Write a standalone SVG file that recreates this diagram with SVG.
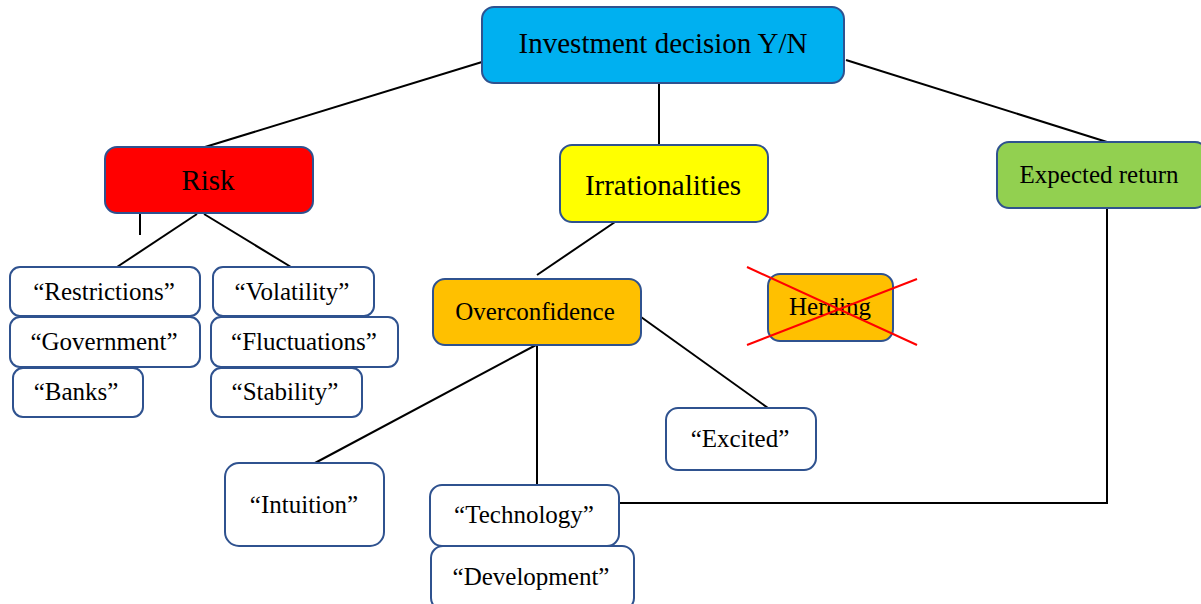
<svg xmlns="http://www.w3.org/2000/svg" width="1201" height="604" viewBox="0 0 1201 604">
<style>
.box{stroke:#2F528F;stroke-width:2}
.w{fill:#FFFFFF}
.t{font-family:'Liberation Serif','Times New Roman',Times,'DejaVu Serif',serif;fill:#000;text-anchor:middle}
.b{font-size:29px}
.s{font-size:25px}
.c{stroke:#000;stroke-width:2;fill:none}
.x{stroke:#FF0000;stroke-width:2}
</style>
<rect width="1201" height="604" fill="#FFFFFF"/>
<g id="connectors">
<line class="c" x1="482" y1="62" x2="205" y2="147"/>
<line class="c" x1="659" y1="83" x2="659" y2="145"/>
<line class="c" x1="846" y1="60" x2="1107" y2="142"/>
<line class="c" x1="140" y1="206" x2="140" y2="235"/>
<line class="c" x1="197" y1="214" x2="117" y2="267"/>
<line class="c" x1="204" y1="214" x2="291" y2="267"/>
<line class="c" x1="615" y1="222" x2="537" y2="275"/>
<line class="c" x1="641" y1="317" x2="768" y2="408"/>
<line class="c" x1="536" y1="345" x2="315" y2="463"/>
<line class="c" x1="537" y1="343" x2="537" y2="485"/>
<polyline class="c" points="619,503 1107,503 1107,208"/>
</g>
<g id="investment">
<rect class="box" x="482" y="7" width="362" height="76" rx="12" fill="#00B0F0"/>
<text class="t b" x="663" y="53" font-family="Liberation Serif, serif">Investment decision Y/N</text>
</g>
<g id="risk">
<rect class="box" x="105" y="147" width="208" height="66" rx="12" fill="#FF0000"/>
<text class="t b" x="208" y="190">Risk</text>
</g>
<g id="irrationalities">
<rect class="box" x="560" y="145" width="208" height="77" rx="12" fill="#FFFF00"/>
<text class="t b" x="663" y="195">Irrationalities</text>
</g>
<g id="expected">
<rect class="box" x="997" y="142" width="210" height="66" rx="12" fill="#92D050"/>
<text class="t s" x="1099" y="183">Expected return</text>
</g>
<g id="restrictions">
<rect class="box w" x="10" y="267" width="190" height="49" rx="10"/>
<text class="t s" x="104" y="300">“Restrictions”</text>
</g>
<g id="government">
<rect class="box w" x="10" y="317" width="190" height="50" rx="10"/>
<text class="t s" x="104" y="350">“Government”</text>
</g>
<g id="banks">
<rect class="box w" x="13" y="368" width="130" height="49" rx="10"/>
<text class="t s" x="76" y="400">“Banks”</text>
</g>
<g id="volatility">
<rect class="box w" x="213" y="267" width="161" height="49" rx="10"/>
<text class="t s" x="292" y="300">“Volatility”</text>
</g>
<g id="fluctuations">
<rect class="box w" x="211" y="317" width="187" height="50" rx="10"/>
<text class="t s" x="304" y="350">“Fluctuations”</text>
</g>
<g id="stability">
<rect class="box w" x="211" y="368" width="151" height="49" rx="10"/>
<text class="t s" x="285" y="400">“Stability”</text>
</g>
<g id="overconfidence">
<rect class="box" x="433" y="279" width="208" height="66" rx="12" fill="#FFC000"/>
<text class="t s" x="535" y="320">Overconfidence</text>
</g>
<g id="herding">
<rect class="box" x="768" y="274" width="125" height="67" rx="12" fill="#FFC000"/>
<text class="t s" x="830" y="315">Herding</text>
<line class="x" x1="747" y1="267" x2="917" y2="345"/>
<line class="x" x1="747" y1="345" x2="917" y2="279"/>
</g>
<g id="excited">
<rect class="box w" x="666" y="408" width="150" height="62" rx="12"/>
<text class="t s" x="740" y="447">“Excited”</text>
</g>
<g id="intuition">
<rect class="box w" x="225" y="463" width="159" height="83" rx="14"/>
<text class="t s" x="304" y="513">“Intuition”</text>
</g>
<g id="technology">
<rect class="box w" x="430" y="485" width="189" height="61" rx="12"/>
<text class="t s" x="524" y="523">“Technology”</text>
</g>
<g id="development">
<rect class="box w" x="431" y="546" width="203" height="64" rx="12"/>
<text class="t s" x="531" y="585">“Development”</text>
</g>
</svg>
